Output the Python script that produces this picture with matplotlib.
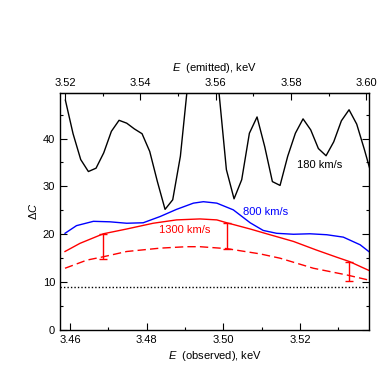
import numpy as np
import matplotlib
matplotlib.use("Agg")
import matplotlib.pyplot as plt
from matplotlib.ticker import FixedLocator

plt.rcParams['font.family'] = ['Liberation Sans', 'DejaVu Sans']
plt.rcParams['font.size'] = 8
plt.rcParams['mathtext.fontset'] = 'custom'
plt.rcParams['mathtext.it'] = 'Liberation Sans:italic'
plt.rcParams['mathtext.rm'] = 'Liberation Sans'

# redshift factor between observed and emitted energy
one_plus_z = 1.01773

# 180 km/s scan: 0.002 keV grid in observed energy
e_black = 3.4588 + 0.002 * np.arange(41)
dc_180 = [48.0, 41.0, 35.6, 33.1, 33.8, 37.0, 41.5, 43.8, 43.2, 42.0,
          41.0, 37.3, 31.0, 25.2, 27.2, 36.3, 52.0, 57.0, 62.0, 58.0,
          50.2, 33.5, 27.4, 31.4, 41.1, 44.5, 38.3, 31.0, 30.2, 36.3,
          41.1, 44.1, 41.8, 37.9, 36.4, 39.3, 43.7, 46.0, 43.0, 37.7,
          32.0]

e_800 = [3.4587, 3.4617, 3.4661, 3.4704, 3.4748, 3.4791, 3.4835, 3.4878,
         3.4922, 3.4948, 3.4983, 3.5026, 3.5070, 3.5104, 3.5139, 3.5183,
         3.5226, 3.5270, 3.5313, 3.5357, 3.5381]
dc_800 = [20.2, 21.8, 22.7, 22.6, 22.3, 22.4, 23.7, 25.2,
          26.5, 26.8, 26.5, 25.1, 22.4, 20.8, 20.2, 20.0,
          20.1, 19.9, 19.4, 17.8, 16.3]

e_1300 = [3.4587, 3.4626, 3.4687, 3.4748, 3.4817, 3.4878, 3.4939, 3.4983,
          3.5009, 3.5070, 3.5113, 3.5183, 3.5243, 3.5296, 3.5329, 3.5381]
dc_1300 = [16.4, 18.1, 20.1, 21.1, 22.3, 23.0, 23.2, 23.0,
           22.4, 21.1, 20.1, 18.5, 16.7, 15.2, 14.3, 12.4]

e_1300_low = [3.4587, 3.4644, 3.4687, 3.4748, 3.4835, 3.4904, 3.4939,
              3.5009, 3.5096, 3.5148, 3.5235, 3.5322, 3.5381]
dc_1300_low = [12.9, 14.6, 15.3, 16.4, 17.1, 17.4, 17.4,
               17.0, 15.9, 15.0, 12.9, 11.5, 10.4]

# error bars between the two 1300 km/s curves
e_bars = [3.4687, 3.5009, 3.5329]
bar_top = [20.1, 22.4, 14.3]
bar_bottom = [14.9, 16.9, 10.3]

dc_threshold = 9.05

obs_ticks = [3.46, 3.48, 3.50, 3.52]
obs_minor = [3.47, 3.49, 3.51, 3.53]
emit_ticks = [3.52, 3.54, 3.56, 3.58, 3.60]
emit_minor = [3.53, 3.55, 3.57, 3.59]

fig = plt.figure(figsize=(3.9, 3.9), dpi=100)
ax = fig.add_axes([0.1538, 0.1538, 0.7931, 0.6077])

ax.plot(e_black, dc_180, color='black', lw=1.0)
ax.plot(e_800, dc_800, color='#0000ff', lw=1.0)
ax.plot(e_1300, dc_1300, color='#ff0000', lw=1.0)
ax.plot(e_1300_low, dc_1300_low, color='#ff0000', lw=1.0, dashes=(6, 3))
ax.axhline(dc_threshold, color='black', lw=1.0, linestyle=(0, (1, 1.5)))

bar_mid = [(t + b) / 2 for t, b in zip(bar_top, bar_bottom)]
bar_err = [(t - b) / 2 for t, b in zip(bar_top, bar_bottom)]
ax.errorbar(e_bars, bar_mid, yerr=bar_err, fmt='none', ecolor='#ff0000',
            elinewidth=1.0, capsize=3, capthick=1.0)

ax.text(3.5252, 34.5, '180 km/s', color='black', ha='center', va='center')
ax.text(3.5109, 24.7, '800 km/s', color='#0000ff', ha='center', va='center')
ax.text(3.4900, 20.9, '1300 km/s', color='#ff0000', ha='center', va='center')

ax.set_xlim(3.45739, 3.53808)
ax.set_ylim(0, 49.5)
ax.xaxis.set_major_locator(FixedLocator(obs_ticks))
ax.xaxis.set_minor_locator(FixedLocator(obs_minor))
ax.set_yticks([0, 10, 20, 30, 40])
ax.set_yticks([5, 15, 25, 35, 45], minor=True)
ax.xaxis.set_major_formatter(lambda v, p: f'{v:.2f}')
ax.tick_params(which='both', direction='in', right=True, top=False)
ax.tick_params(which='major', length=5, width=0.8)
ax.tick_params(which='minor', length=2.2, width=0.8)
for s in ax.spines.values():
    s.set_linewidth(1.0)

ax.set_xlabel('$E$  (observed), keV', labelpad=3)
ax.set_ylabel('Δ$C$', labelpad=3)

top = ax.secondary_xaxis('top', functions=(lambda x: x * one_plus_z,
                                           lambda x: x / one_plus_z))
top.xaxis.set_major_locator(FixedLocator(emit_ticks))
top.xaxis.set_minor_locator(FixedLocator(emit_minor))
top.xaxis.set_major_formatter(lambda v, p: f'{v:.2f}')
top.tick_params(which='both', direction='in')
top.tick_params(which='major', length=5, width=0.8)
top.tick_params(which='minor', length=2.2, width=0.8)
top.set_xlabel('$E$  (emitted), keV', labelpad=5)

fig.savefig('out.png', dpi=100)
